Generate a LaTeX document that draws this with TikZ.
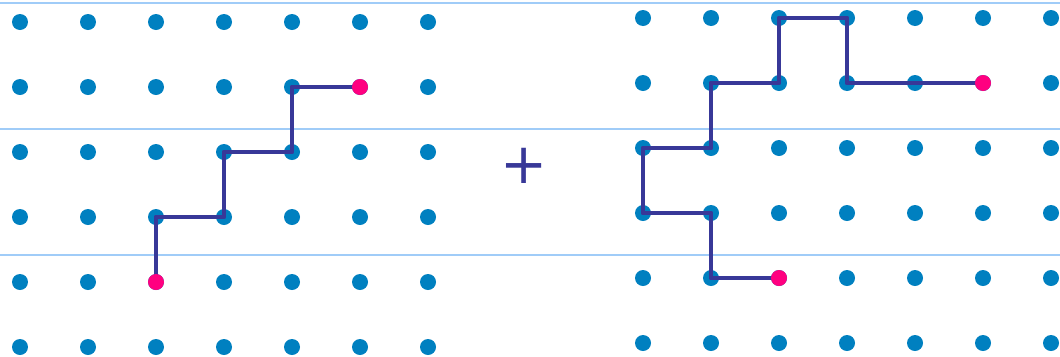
\documentclass[tikz,border=0pt]{standalone}
\usepackage{fontspec}
\newfontfamily\plusfont{DejaVu Sans}
\usepackage{tikz}
\usetikzlibrary{positioning}
\definecolor{dotblue}{RGB}{0,128,192}
\definecolor{endpink}{RGB}{255,0,128}
\definecolor{walkblue}{RGB}{56,56,152}
\definecolor{ruleblue}{RGB}{160,204,248}

\begin{document}
\begin{tikzpicture}[
  x=0.02cm, y=-0.02cm,
  site/.style={circle, fill=dotblue, inner sep=0pt, minimum size=0.32cm},
  endsite/.style={site, fill=endpink},
  walk/.style={draw=walkblue, line width=2.8pt, line cap=round, line join=round},
  rule/.style={draw=ruleblue, line width=1.1pt},
]
\useasboundingbox (0,0) rectangle (1060,356);
% ruled paper
\foreach \y in {3,129,255}
  \draw[rule] (0,\y) -- (1060,\y);
% the two lattices
\foreach \c in {0,...,6}
  \foreach \r in {0,...,5} {
    \node[site] (L-\c-\r) at ({20+68*\c},{22+65*\r}) {};
    \node[site] (R-\c-\r) at ({643+68*\c},{18+65*\r}) {};
  }
% walks
\draw[walk] (L-2-4.center) -- (L-2-3.center) -- (L-3-3.center) -- (L-3-2.center)
  -- (L-4-2.center) -- (L-4-1.center) -- (L-5-1.center);
\draw[walk] (R-2-4.center) -- (R-1-4.center) -- (R-1-3.center) -- (R-0-3.center)
  -- (R-0-2.center) -- (R-1-2.center) -- (R-1-1.center) -- (R-2-1.center)
  -- (R-2-0.center) -- (R-3-0.center) -- (R-3-1.center) -- (R-4-1.center)
  -- (R-5-1.center);
% end points
\node[endsite] (Lstart) at (L-2-4) {};
\node[endsite] (Lend) at (L-5-1) {};
\node[endsite] (Rstart) at (R-2-4) {};
\node[endsite] (Rend) at (R-5-1) {};
\node[text=walkblue, font=\plusfont\fontsize{32}{32}\selectfont] (plus) at (524,166) {+};
\end{tikzpicture}
\end{document}
